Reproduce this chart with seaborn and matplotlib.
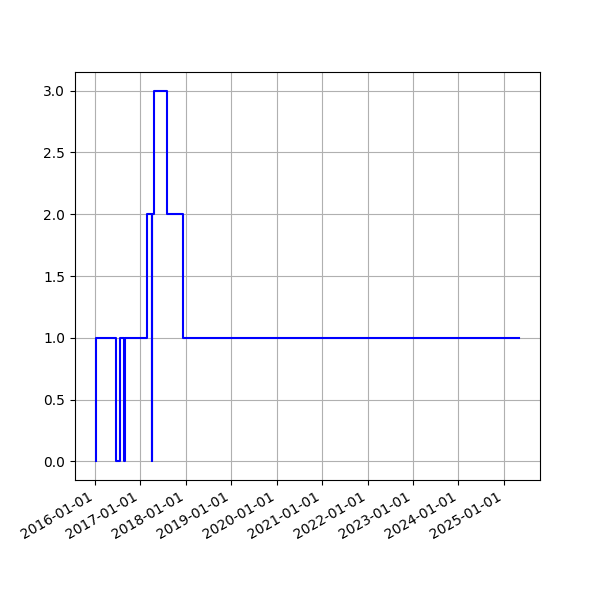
import pandas as pd
import matplotlib
matplotlib.use("Agg")
import matplotlib.pyplot as plt
import matplotlib.dates as mdates
import seaborn as sns

# Change points of the step series (value holds until next date)
dates = [
    "2016-01-12", "2016-01-13", "2016-06-23", "2016-07-23", "2016-08-26",
    "2016-09-02", "2017-02-27", "2017-04-01", "2017-04-04", "2017-04-20",
    "2017-08-06", "2017-12-10", "2025-04-30",
]
values = [0, 1, 0, 1, 0, 1, 2, 0, 2, 3, 2, 1, 1]

df = pd.DataFrame({"date": pd.to_datetime(dates), "value": values})

fig, ax = plt.subplots(figsize=(6, 6), dpi=100)
sns.lineplot(data=df, x="date", y="value", ax=ax, color="blue",
             drawstyle="steps-post", linewidth=1.5)
ax.set_xlabel("")
ax.set_ylabel("")
ax.xaxis.set_major_locator(mdates.YearLocator())
ax.xaxis.set_major_formatter(mdates.DateFormatter("%Y-%m-%d"))
ax.grid(True)
fig.autofmt_xdate()
plt.savefig("out.png")
